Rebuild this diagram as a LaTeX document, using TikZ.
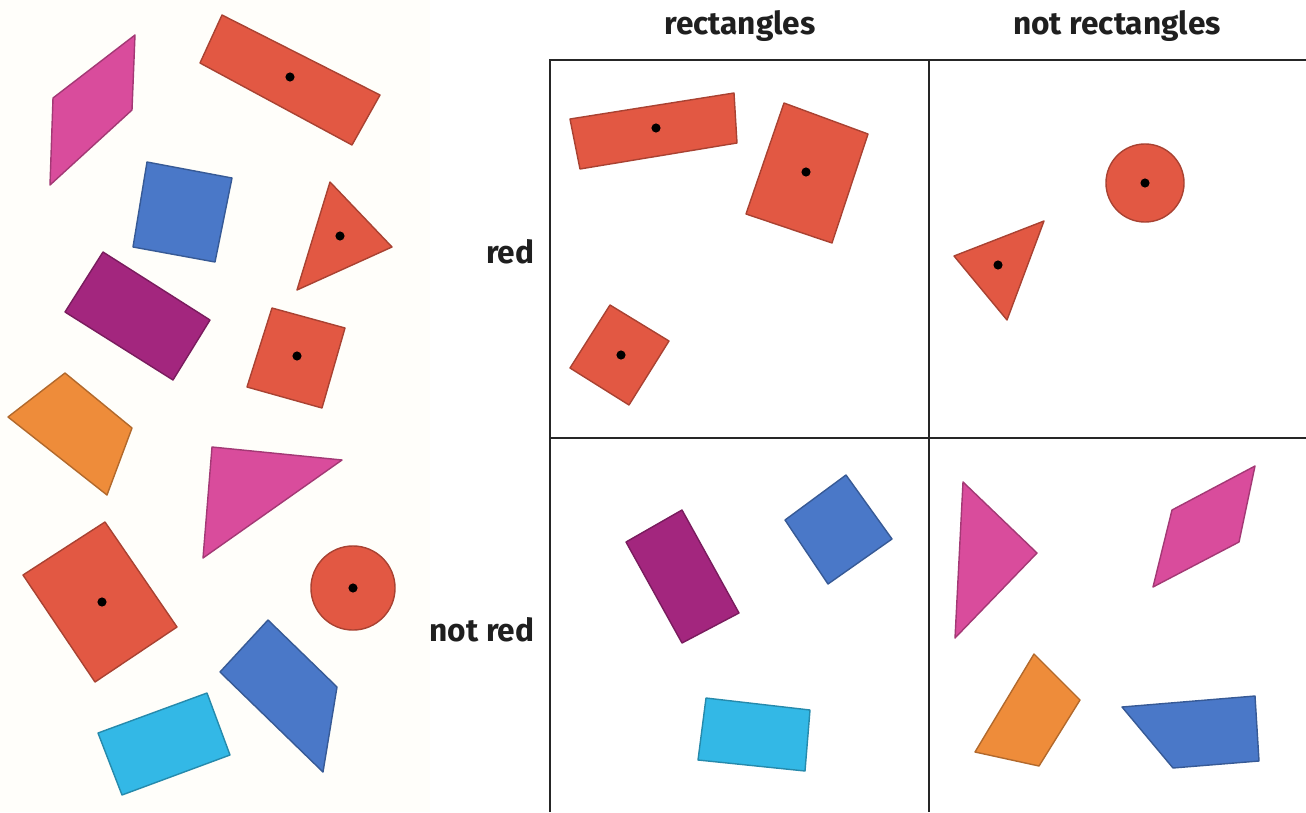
\documentclass[tikz,border=0pt]{standalone}
\usepackage{fontspec}
\setmainfont{Fira Sans}
\definecolor{shred}{HTML}{E25843}
\definecolor{shpink}{HTML}{D94C9C}
\definecolor{shblue}{HTML}{4A78C8}
\definecolor{shpurple}{HTML}{A3267E}
\definecolor{shorange}{HTML}{EE8C3A}
\definecolor{shcyan}{HTML}{33B8E6}
\definecolor{cream}{HTML}{FFFEFA}
\tikzset{
  piece/.style={fill=#1,draw=#1!75!black,line width=0.4pt,line join=round},
  heading/.style={font=\fontsize{9}{11}\selectfont\bfseries,text=black!88,inner sep=0pt}
}

\begin{document}
\begin{tikzpicture}[x=0.01cm,y=-0.01cm]
  \useasboundingbox (0,0) rectangle (1306,812);
  \fill[cream] (0,0) rectangle (430,812);
  % loose pieces
  \draw[piece=shpink] (135,35) -- (132,110) -- (50,185) -- (53,98) -- cycle;
  \draw[piece=shred] (222,15) -- (380,95) -- (352,145) -- (200,63) -- cycle; \fill (290,77) circle (1.3pt);
  \draw[piece=shblue] (147,162) -- (232,178) -- (215,262) -- (133,247) -- cycle;
  \draw[piece=shred] (330,182) -- (392,247) -- (297,290) -- cycle; \fill (340,236) circle (1.3pt);
  \draw[piece=shpurple] (103,252) -- (210,320) -- (173,380) -- (65,312) -- cycle;
  \draw[piece=shred] (272,308) -- (345,328) -- (322,408) -- (247,387) -- cycle; \fill (297,356) circle (1.3pt);
  \draw[piece=shorange] (65,373) -- (132,428) -- (107,495) -- (8,417) -- cycle;
  \draw[piece=shpink] (212,447) -- (342,460) -- (203,558) -- cycle;
  \draw[piece=shred] (105,522) -- (177,627) -- (95,682) -- (23,575) -- cycle; \fill (102,602) circle (1.3pt);
  \draw[piece=shred] (353,588) circle (0.42cm); \fill (353,588) circle (1.3pt);
  \draw[piece=shblue] (268,620) -- (337,687) -- (323,772) -- (220,672) -- cycle;
  \draw[piece=shcyan] (98,733) -- (207,693) -- (230,755) -- (122,795) -- cycle;
  % grid
  \draw[line width=0.6pt,black!85] (550,812) -- (550,60) -- (1306,60);
  \draw[line width=0.6pt,black!85] (929,60) -- (929,812);
  \draw[line width=0.6pt,black!85] (550,438) -- (1306,438);
  \node[heading] (rect) at (740,26) {rectangles};
  \node[heading] (notrect) at (1117,26) {not rectangles};
  \node[heading,anchor=east] (red) at (535,252) {red};
  \node[heading,anchor=east] (notred) at (535,630) {not red};
  % red, rectangles
  \draw[piece=shred] (570,119) -- (734,93) -- (737,143) -- (580,169) -- cycle; \fill (656,128) circle (1.3pt);
  \draw[piece=shred] (784,103) -- (868,134) -- (832,243) -- (746,214) -- cycle; \fill (806,172) circle (1.3pt);
  \draw[piece=shred] (610,305) -- (669,341) -- (629,405) -- (570,368) -- cycle; \fill (621,355) circle (1.3pt);
  % red, not rectangles
  \draw[piece=shred] (1145,183) circle (0.39cm); \fill (1145,183) circle (1.3pt);
  \draw[piece=shred] (1044,221) -- (1007,320) -- (954,256) -- cycle; \fill (998,265) circle (1.3pt);
  % not red, rectangles
  \draw[piece=shpurple] (682,510) -- (739,613) -- (682,643) -- (626,542) -- cycle;
  \draw[piece=shblue] (846,475) -- (892,539) -- (828,584) -- (785,520) -- cycle;
  \draw[piece=shcyan] (706,698) -- (810,710) -- (805,771) -- (698,760) -- cycle;
  % not red, not rectangles
  \draw[piece=shpink] (963,482) -- (1037,553) -- (955,638) -- cycle;
  \draw[piece=shpink] (1255,466) -- (1239,542) -- (1153,587) -- (1172,510) -- cycle;
  \draw[piece=shorange] (1034,654) -- (1080,700) -- (1039,766) -- (975,752) -- cycle;
  \draw[piece=shblue] (1122,707) -- (1255,696) -- (1259,761) -- (1173,768) -- cycle;
\end{tikzpicture}
\end{document}
